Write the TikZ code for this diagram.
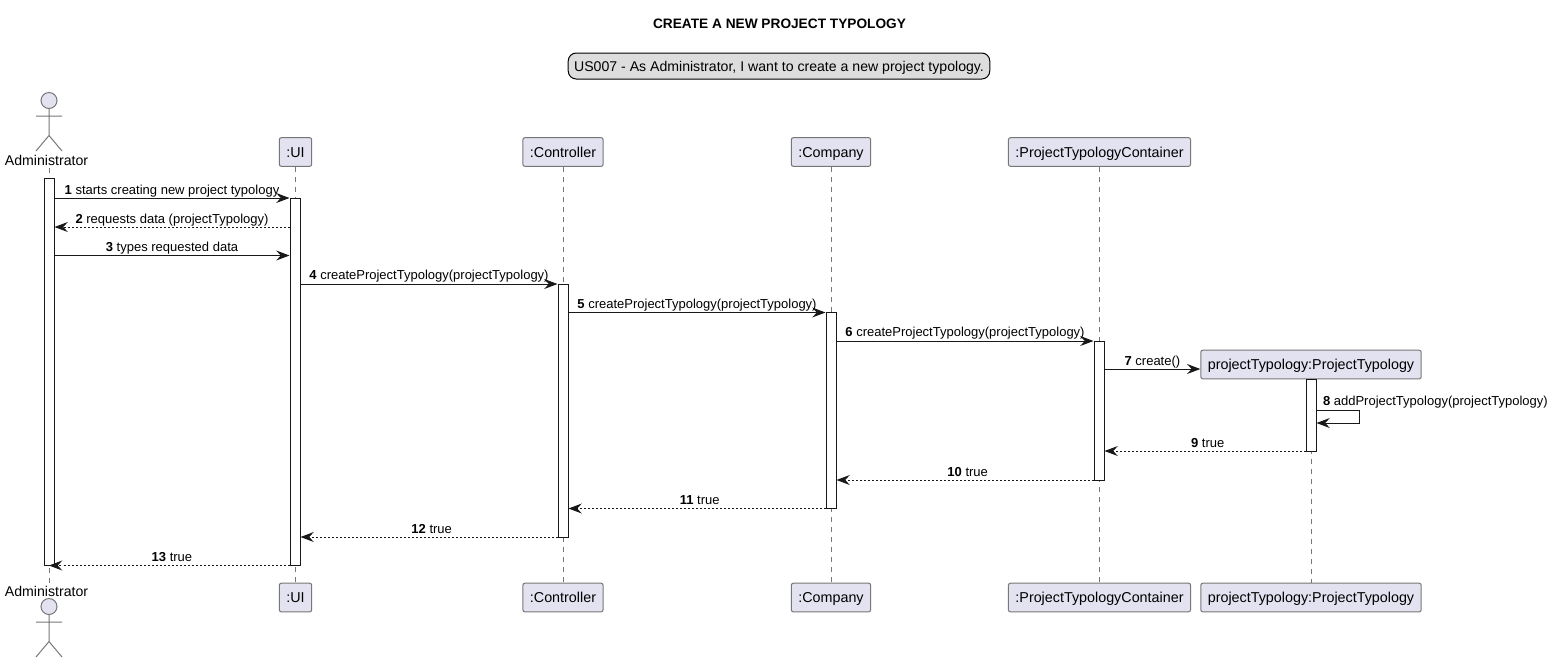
\documentclass[tikz,border=0pt]{standalone}
\usepackage{fontspec}
\setmainfont{Liberation Sans}
\usetikzlibrary{arrows.meta, positioning}
\definecolor{partfill}{HTML}{E2E2F0}
\definecolor{partline}{HTML}{777777}
\definecolor{notefill}{HTML}{DDDDDD}
\definecolor{ink}{HTML}{181818}
\tikzset{
    part/.style={rectangle,rounded corners=1.5pt,draw=partline,fill=partfill,line width=0.75pt,
        inner xsep=5.25pt,inner ysep=0pt,minimum height=21.5pt,text height=9pt,text depth=1.3pt,
        font=\fontsize{10.75}{12}\selectfont},
    actorlbl/.style={inner sep=0pt,font=\fontsize{10.6}{12}\selectfont},
    actorhead/.style={circle,draw=partline,fill=partfill,line width=0.75pt,inner sep=0pt,minimum size=12pt},
    actorline/.style={draw=partline,line width=0.75pt},
    lifeline/.style={draw=partline,line width=0.75pt,dash pattern=on 3.75pt off 3.75pt},
    bar/.style={rectangle,draw=ink,fill=white,line width=0.75pt,inner sep=0pt,minimum width=7.5pt},
    msg/.style={draw=ink,line width=0.75pt,-{Stealth[length=10pt,width=7.5pt,inset=3.5pt]}},
    ret/.style={msg,dash pattern=on 1.5pt off 1.5pt},
    lbl/.style={anchor=base,yshift=3pt,inner sep=0pt,font=\fontsize{9.75}{11}\selectfont},
    lblback/.style={lbl,xshift=2pt},
}
\begin{document}
\begin{tikzpicture}[x=0.75pt,y=-0.75pt]
\useasboundingbox (0,0) rectangle (1553,662);
% Title and note
\node[font=\bfseries\fontsize{10.26}{12}\selectfont,inner sep=0pt] (title) at (779.5,23.5) {CREATE A NEW PROJECT TYPOLOGY};
\node[rectangle,rounded corners=6pt,draw=black,fill=notefill,line width=0.75pt,inner xsep=4.4pt,minimum height=19.5pt,inner ysep=0pt,text height=9pt,text depth=1.3pt,font=\fontsize{10.58}{12}\selectfont] (note) at (779,66) {US007 - As Administrator, I want to create a new project typology.};
% Participants
\node[actorlbl] (adminT) at (46.5,160) {Administrator};
\node[part] (uiT) at (295.5,152) {:UI};
\node[part] (ctrlT) at (563,152) {:Controller};
\node[part] (compT) at (831,152) {:Company};
\node[part] (contT) at (1099.5,152) {:ProjectTypologyContainer};
\node[part] (typoT) at (1311,364.5) {projectTypology:ProjectTypology};
\node[actorlbl] (adminB) at (46.5,591) {Administrator};
\node[part] (uiB) at (295.5,597.5) {:UI};
\node[part] (ctrlB) at (563,597.5) {:Controller};
\node[part] (compB) at (831,597.5) {:Company};
\node[part] (contB) at (1099.5,597.5) {:ProjectTypologyContainer};
\node[part] (typoB) at (1311,597.5) {projectTypology:ProjectTypology};
% Actors
\node[actorhead] (headT) at (49,100.5) {};
\node[actorhead] (headB) at (49,606.5) {};
\draw[actorline] (headT.south) -- (49,135.5) -- (36,151) (49,135.5) -- (62,151) (36,116) -- (62,116);
\draw[actorline] (headB.south) -- (49,641.5) -- (36,657) (49,641.5) -- (62,657) (36,622) -- (62,622);
% Lifelines
\coordinate (adminTop) at (49,168);
\coordinate (adminEnd) at (49,583);
\draw[lifeline] (adminTop) -- (adminEnd);
\draw[lifeline] (uiT) -- (uiB);
\draw[lifeline] (ctrlT) -- (ctrlB);
\draw[lifeline] (compT) -- (compB);
\draw[lifeline] (contT) -- (contB);
\draw[lifeline] (typoT) -- (typoB);
% Activation bars
\node[bar,minimum height=290.25pt] (acAdmin) at (49,371.5) {};
\node[bar,minimum height=275.25pt] (acUI) at (295,381.5) {};
\node[bar,minimum height=189.75pt] (acCtrl) at (563,410.5) {};
\node[bar,minimum height=147pt] (acComp) at (831,410) {};
\node[bar,minimum height=104.25pt] (acCont) at (1099,410.5) {};
\node[bar,minimum height=54pt] (acTypo) at (1311,415) {};
% Rows
\coordinate (r1) at (0,198);
\coordinate (r2) at (0,227);
\coordinate (r3) at (0,255.5);
\coordinate (r4) at (0,284);
\coordinate (r5) at (0,312.5);
\coordinate (r6) at (0,341);
\coordinate (r7) at (0,369);
\coordinate (r8) at (0,410);
\coordinate (r8b) at (0,423);
\coordinate (r9) at (0,451);
\coordinate (r10) at (0,480);
\coordinate (r11) at (0,508.5);
\coordinate (r12) at (0,537);
\coordinate (r13) at (0,565.5);
% Messages
\draw[msg] (acAdmin.east |- r1) -- node[lbl] {\textbf{1} starts creating new project typology} (acUI.west |- r1);
\draw[ret] (acUI.west |- r2) -- node[lbl] {\textbf{2} requests data (projectTypology)} (acAdmin.east |- r2);
\draw[msg] (acAdmin.east |- r3) -- node[lbl] {\textbf{3} types requested data} (acUI.west |- r3);
\draw[msg] (acUI.east |- r4) -- node[lbl,yshift=0.75pt] {\textbf{4} createProjectTypology(projectTypology)} (acCtrl.west |- r4);
\draw[msg] (acCtrl.east |- r5) -- node[lbl] {\textbf{5} createProjectTypology(projectTypology)} (acComp.west |- r5);
\draw[msg] (acComp.east |- r6) -- node[lbl,yshift=0.75pt] {\textbf{6} createProjectTypology(projectTypology)} (acCont.west |- r6);
\draw[msg] (acCont.east |- r7) -- node[lbl] {\textbf{7} create()} (typoT.west |- r7);
\draw[msg] (acTypo.east |- r8) -- ++(43,0) node[lbl,anchor=base west,xshift=4.5pt,yshift=0.75pt,pos=0] {\textbf{8} addProjectTypology(projectTypology)} |- (acTypo.east |- r8b);
\draw[ret] (acTypo.west |- r9) -- node[lblback] {\textbf{9} true} (acCont.east |- r9);
\draw[ret] (acCont.west |- r10) -- node[lblback] {\textbf{10} true} (acComp.east |- r10);
\draw[ret] (acComp.west |- r11) -- node[lblback] {\textbf{11} true} (acCtrl.east |- r11);
\draw[ret] (acCtrl.west |- r12) -- node[lblback] {\textbf{12} true} (acUI.east |- r12);
\draw[ret] (acUI.west |- r13) -- node[lblback] {\textbf{13} true} (acAdmin.center |- r13);
\end{tikzpicture}
\end{document}
